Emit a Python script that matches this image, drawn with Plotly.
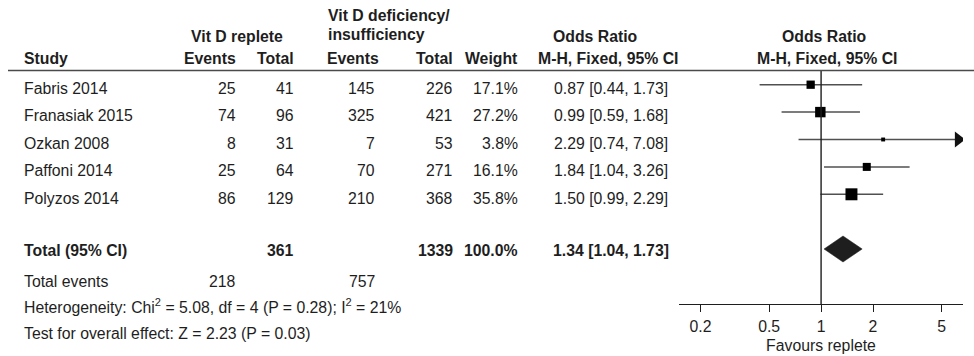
import math
import plotly.graph_objects as go

# ---------------- data ----------------
studies = ["Fabris 2014", "Franasiak 2015", "Ozkan 2008", "Paffoni 2014", "Polyzos 2014"]
events_replete = [25, 74, 8, 25, 86]
total_replete = [41, 96, 31, 64, 129]
events_deficient = [145, 325, 7, 70, 210]
total_deficient = [226, 421, 53, 271, 368]
weights = [17.1, 27.2, 3.8, 16.1, 35.8]
odds_ratio = [0.87, 0.99, 2.29, 1.84, 1.50]
ci_lower = [0.44, 0.59, 0.74, 1.04, 0.99]
ci_upper = [1.73, 1.68, 7.08, 3.26, 2.29]

pooled_label = "Total (95% CI)"
pooled_total_replete = 361
pooled_total_deficient = 1339
pooled_weight = 100.0
pooled_or = 1.34
pooled_lower = 1.04
pooled_upper = 1.73
total_events_replete = 218
total_events_deficient = 757
het_chi2 = 5.08
het_df = 4
het_p = 0.28
het_i2 = 21
overall_z = 2.23
overall_p = 0.03

tick_values = [0.2, 0.5, 1, 2, 5]
tick_labels = ["0.2", "0.5", "1", "2", "5"]
axis_min, axis_max = 0.15, 6.65
axis_title = "Favours replete"

# ---------------- layout constants ----------------
W, H = 974, 356
FONT = "Arial, Liberation Sans, Helvetica, sans-serif"
FS = 15.8
INK = "#1e1e1e"

ROW_TOP = 84.7       # y of first study's CI line
ROW_H = 27.4
TEXT_DY = 3.8
TOTAL_Y = 250.5
DIAMOND_Y = 249
EVENTS_Y = 281
HET_Y = 306
TEST_Y = 333.5
HEADER_LINE_Y = 70.5
AXIS_Y = 304

COL_STUDY = 22
COL_EV1 = 238
COL_TOT1 = 296
COL_EV2 = 377
COL_TOT2 = 455
COL_WT = 520
COL_OR = 611
GROUP1_X = 189
GROUP2_X = 326

X0_PX, X1_PX = 679, 963

annotations = []


def txt(x_px, y_px, text, anchor="left", bold=False, size=FS):
    if bold:
        text = "<b>" + text + "</b>"
    annotations.append(dict(
        x=x_px / W, y=y_px, xref="paper", yref="y", text=text,
        showarrow=False, xanchor=anchor, yanchor="middle",
        font=dict(family=FONT, size=size, color=INK),
    ))


# headers
txt(GROUP2_X, 15.5, "Vit D deficiency/", bold=True)
txt(GROUP2_X, 34.5, "insufficiency", bold=True)
txt(GROUP1_X, 36.7, "Vit D replete", bold=True)
txt(595, 36.7, "Odds Ratio", anchor="center", bold=True)
txt(824, 36.7, "Odds Ratio", anchor="center", bold=True)
txt(COL_STUDY, 58, "Study", bold=True)
txt(COL_EV1, 58, "Events", anchor="right", bold=True)
txt(COL_TOT1, 58, "Total", anchor="right", bold=True)
txt(GROUP2_X - 1, 58, "Events", bold=True)
txt(COL_TOT2, 58, "Total", anchor="right", bold=True)
txt(COL_WT, 58, "Weight", anchor="right", bold=True)
txt(608, 58, "M-H, Fixed, 95% CI", anchor="center", bold=True)
txt(827, 58, "M-H, Fixed, 95% CI", anchor="center", bold=True)

# study rows
row_y = [ROW_TOP + i * ROW_H for i in range(len(studies))]
for i, s in enumerate(studies):
    ty = row_y[i] + TEXT_DY
    txt(COL_STUDY, ty, s)
    txt(COL_EV1, ty, str(events_replete[i]), anchor="right")
    txt(COL_TOT1, ty, str(total_replete[i]), anchor="right")
    txt(COL_EV2, ty, str(events_deficient[i]), anchor="right")
    txt(COL_TOT2, ty, str(total_deficient[i]), anchor="right")
    txt(COL_WT, ty, f"{weights[i]:.1f}%", anchor="right")
    txt(COL_OR, ty, f"{odds_ratio[i]:.2f} [{ci_lower[i]:.2f}, {ci_upper[i]:.2f}]", anchor="center")

# totals
txt(COL_STUDY, TOTAL_Y, pooled_label, bold=True)
txt(COL_TOT1, TOTAL_Y, str(pooled_total_replete), anchor="right", bold=True)
txt(COL_TOT2, TOTAL_Y, str(pooled_total_deficient), anchor="right", bold=True)
txt(COL_WT, TOTAL_Y, f"{pooled_weight:.1f}%", anchor="right", bold=True)
txt(COL_OR, TOTAL_Y, f"{pooled_or:.2f} [{pooled_lower:.2f}, {pooled_upper:.2f}]", anchor="center", bold=True)
txt(COL_STUDY, EVENTS_Y, "Total events")
txt(COL_EV1, EVENTS_Y, str(total_events_replete), anchor="right")
txt(COL_EV2, EVENTS_Y, str(total_events_deficient), anchor="right")
txt(COL_STUDY, HET_Y,
    f"Heterogeneity: Chi<sup>2</sup> = {het_chi2:.2f}, df = {het_df} (P = {het_p:.2f}); I<sup>2</sup> = {het_i2}%")
txt(COL_STUDY, TEST_Y, f"Test for overall effect: Z = {overall_z:.2f} (P = {overall_p:.2f})")

# ---------------- forest plot ----------------
fig = go.Figure()

line_x, line_y = [], []
arrow_x, arrow_y = [], []
for i in range(len(studies)):
    hi = min(ci_upper[i], axis_max)
    line_x += [ci_lower[i], hi, None]
    line_y += [row_y[i], row_y[i], None]
    if ci_upper[i] > axis_max:
        arrow_x.append(axis_max * 0.94)
        arrow_y.append(row_y[i])

fig.add_trace(go.Scatter(x=line_x, y=line_y, mode="lines",
                         line=dict(color="#505050", width=1.5),
                         hoverinfo="skip", showlegend=False))
fig.add_trace(go.Scatter(x=arrow_x, y=arrow_y, mode="markers",
                         marker=dict(symbol="triangle-right", size=14, color="#111111", opacity=1),
                         hoverinfo="skip", showlegend=False))
fig.add_trace(go.Scatter(x=odds_ratio, y=row_y, mode="markers",
                         marker=dict(symbol="square", color="#000000", opacity=1,
                                     size=[2.0 * math.sqrt(w) for w in weights],
                                     line=dict(width=0)),
                         hoverinfo="skip", showlegend=False))
fig.add_trace(go.Scatter(
    x=[pooled_lower, pooled_or, pooled_upper, pooled_or, pooled_lower],
    y=[DIAMOND_Y, DIAMOND_Y - 13, DIAMOND_Y, DIAMOND_Y + 13, DIAMOND_Y],
    mode="lines", fill="toself", fillcolor=INK, line=dict(color=INK, width=0.5),
    hoverinfo="skip", showlegend=False))

shapes = [
    dict(type="line", xref="x", yref="y", x0=1, x1=1, y0=HEADER_LINE_Y, y1=AXIS_Y,
         line=dict(color=INK, width=1.4)),
    dict(type="line", xref="paper", yref="y", x0=8 / W, x1=1, y0=HEADER_LINE_Y, y1=HEADER_LINE_Y,
         line=dict(color="#4a4a4a", width=1.5)),
]

axis_common = dict(
    type="log",
    range=[math.log10(axis_min), math.log10(axis_max)],
    domain=[X0_PX / W, X1_PX / W],
    anchor="free",
    position=(H - AXIS_Y) / H,
    showgrid=False, zeroline=False,
    tickvals=tick_values,
    ticklen=7, tickwidth=1, tickcolor=INK,
)

fig.update_layout(
    width=W, height=H,
    margin=dict(l=0, r=0, t=0, b=0),
    paper_bgcolor="white", plot_bgcolor="white",
    showlegend=False,
    annotations=annotations,
    shapes=shapes,
    xaxis=dict(**axis_common, ticks="outside", ticktext=tick_labels,
               showline=True, linecolor=INK, linewidth=1,
               tickfont=dict(family=FONT, size=FS, color=INK),
               ticklabelstandoff=1,
               title=dict(text=axis_title, standoff=5,
                          font=dict(family=FONT, size=FS, color=INK))),
    xaxis2=dict(**axis_common, ticks="inside", overlaying="x",
                showticklabels=False, showline=False),
    yaxis=dict(range=[H, 0], domain=[0, 1], visible=False, fixedrange=True),
)

fig.write_html(
    "out.html",
    config={"displayModeBar": False, "staticPlot": True},
    post_script="document.body.style.margin='0';document.body.style.overflow='hidden';",
)
